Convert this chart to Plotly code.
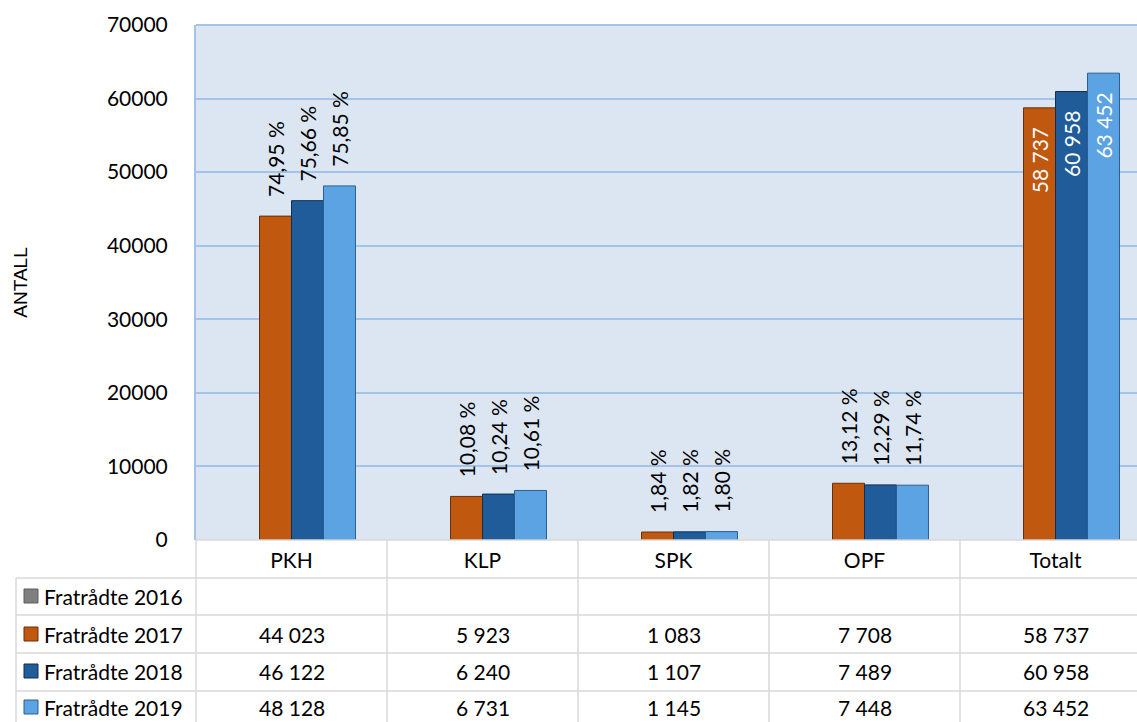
import plotly.graph_objects as go

categories = ["PKH", "KLP", "SPK", "OPF", "Totalt"]
series_names = ["Fratrådte 2016", "Fratrådte 2017", "Fratrådte 2018", "Fratrådte 2019"]
values_2016 = [None, None, None, None, None]
values_2017 = [44023, 5923, 1083, 7708, 58737]
values_2018 = [46122, 6240, 1107, 7489, 60958]
values_2019 = [48128, 6731, 1145, 7448, 63452]
series_values = [values_2016, values_2017, values_2018, values_2019]
fill_colors = ["#7f7f7f", "#c0580f", "#1f5c99", "#5ba3e2"]
line_colors = ["#5f5f5f", "#6b2e06", "#0e2f52", "#2c5f90"]

FONT = "Lato, Calibri, Carlito, 'Open Sans', sans-serif"
TITLE_FONT = "'Liberation Sans', Arial, sans-serif"
FS = 21
W, H = 1137, 722
L, R, T, B = 196, 0, 25, 182
PW, PH = W - L - R, H - T - B
CAT_W = 191  # pixel width of one category column (last column runs off the page)
NB = "\u00a0"


def fmt_int(v):
    return f"{v:,}".replace(",", " ")


def px_x(p):
    return (p - L) / PW


def px_y(p):
    return (H - B - p) / PH


fig = go.Figure()
for name, vals, fc, lc in zip(series_names, series_values, fill_colors, line_colors):
    total = vals[-1]
    texts, pos, cols = [], [], []
    for i, v in enumerate(vals):
        if v is None:
            texts.append("")
            pos.append("none")
            cols.append("black")
        elif categories[i] == "Totalt":
            texts.append(fmt_int(v) + NB * 3)
            pos.append("inside")
            cols.append("white")
        else:
            texts.append(NB * 3 + f"{v / total * 100:.2f} %".replace(".", ","))
            pos.append("outside")
            cols.append("black")
    fig.add_trace(go.Bar(
        name=name, x=categories, y=vals,
        marker=dict(color=fc, line=dict(color=lc, width=1)),
        text=texts, textposition=pos, textangle=-90,
        insidetextanchor="end",
        textfont=dict(family=FONT, size=FS, color=cols),
        constraintext="none", cliponaxis=False,
        showlegend=False,
    ))

fig.update_layout(
    width=W, height=H,
    margin=dict(l=L, r=R, t=T, b=B, autoexpand=False),
    paper_bgcolor="white", plot_bgcolor="#dce6f2",
    barmode="group", bargap=0.33, bargroupgap=0,
    font=dict(family=FONT, size=FS, color="black"),
)
fig.update_xaxes(
    range=[-0.5, -0.5 + PW / CAT_W],
    showgrid=False, showline=False, zeroline=False,
    ticks="", ticklabelstandoff=6,
    tickfont=dict(family=FONT, size=FS),
)
fig.update_yaxes(
    range=[0, 70000], dtick=10000, tickformat="d",
    showgrid=True, gridcolor="#a3c4e8", gridwidth=1.5,
    zeroline=False, showline=True, linecolor="#a3c4e8", linewidth=2,
    ticks="", ticklabelstandoff=22,
    tickfont=dict(family=FONT, size=FS),
    title=dict(text="ANTALL", font=dict(family=TITLE_FONT, size=19), standoff=74),
)

# data table grid
grid = "#d9d9d9"
shapes = []
shapes.append(dict(type="line", xref="paper", yref="paper", x0=0, x1=1, y0=1, y1=1,
                   line=dict(color="#a3c4e8", width=2)))
shapes.append(dict(type="line", xref="paper", yref="paper", x0=0, x1=1, y0=0, y1=0,
                   line=dict(color=grid, width=1.5)))
for yy in [578, 615, 653, 691]:
    shapes.append(dict(type="line", xref="paper", yref="paper", x0=px_x(16), x1=1,
                       y0=px_y(yy), y1=px_y(yy), line=dict(color=grid, width=1.5)))
shapes.append(dict(type="line", xref="paper", yref="paper", x0=px_x(16), x1=px_x(16),
                   y0=px_y(578), y1=px_y(H), line=dict(color=grid, width=1.5)))
shapes.append(dict(type="line", xref="paper", yref="paper", x0=0, x1=0,
                   y0=0, y1=px_y(H), line=dict(color=grid, width=1.5)))
for i in range(1, len(categories)):
    shapes.append(dict(type="line", xref="x", yref="paper", x0=i - 0.5, x1=i - 0.5,
                       y0=0, y1=px_y(H), line=dict(color=grid, width=1.5)))

annotations = []
row_centers = [596, 634, 671, 707]
for name, vals, fc, lc, yc in zip(series_names, series_values, fill_colors, line_colors, row_centers):
    shapes.append(dict(type="rect", xref="paper", yref="paper",
                       x0=px_x(24), x1=px_x(38), y0=px_y(yc + 7), y1=px_y(yc - 7),
                       fillcolor=fc, line=dict(color=lc, width=1)))
    annotations.append(dict(xref="paper", yref="paper", x=px_x(42), y=px_y(yc),
                            text=name, showarrow=False, xanchor="left", yanchor="middle",
                            font=dict(family=FONT, size=FS)))
    for c, v in zip(categories, vals):
        if v is not None:
            annotations.append(dict(xref="x", yref="paper", x=c, y=px_y(yc),
                                    text=fmt_int(v), showarrow=False,
                                    xanchor="center", yanchor="middle",
                                    font=dict(family=FONT, size=FS)))

fig.update_layout(shapes=shapes, annotations=annotations)
fig.write_html(
    "out.html",
    config={"displayModeBar": False},
    post_script="document.body.style.margin='0';document.body.style.overflow='hidden';",
)
